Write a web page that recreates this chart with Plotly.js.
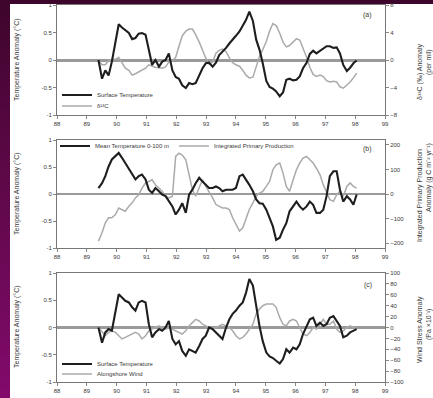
<!DOCTYPE html>
<html>
<head>
<meta charset="utf-8">
<script src="https://cdn.plot.ly/plotly-3.0.1.min.js"></script>
<style>
  html, body { margin: 0; padding: 0; }
  body { width: 433px; height: 398px; overflow: hidden; position: relative;
         background: linear-gradient(to bottom, #3e052c 0%, #5e0848 45%, #820a6c 100%); }
  #sheet { position: absolute; left: 10px; top: 4px; width: 423px; height: 394px; background: #ffffff; }
  #chart { position: absolute; left: 0; top: 0; width: 433px; height: 398px; }
</style>
</head>
<body>
<div id="sheet"></div>
<div id="chart"></div>
<script>
// Sampling times (decimal years)
const years = [
  1989.39, 1989.51, 1989.62, 1989.73, 1989.84, 1989.96, 1990.07, 1990.18, 1990.29, 1990.41,
  1990.52, 1990.63, 1990.74, 1990.85, 1990.97, 1991.08, 1991.19, 1991.30, 1991.42, 1991.53,
  1991.64, 1991.75, 1991.87, 1991.98, 1992.09, 1992.20, 1992.32, 1992.43, 1992.54, 1992.65,
  1992.77, 1992.88, 1992.99, 1993.10, 1993.22, 1993.33, 1993.44, 1993.55, 1993.67, 1993.78,
  1993.89, 1994.00, 1994.12, 1994.23, 1994.34, 1994.45, 1994.57, 1994.68, 1994.79, 1994.90,
  1995.02, 1995.13, 1995.24, 1995.35, 1995.47, 1995.58, 1995.69, 1995.80, 1995.92, 1996.03,
  1996.14, 1996.25, 1996.37, 1996.48, 1996.59, 1996.70, 1996.82, 1996.93, 1997.04, 1997.15,
  1997.27, 1997.38, 1997.49, 1997.60, 1997.72, 1997.83, 1997.94, 1998.05
];

// (a) surface temperature anomaly (°C) and δ13C anomaly
const surfTempA = [
  0.00, -0.34, -0.19, -0.28, -0.03, 0.35, 0.65, 0.59, 0.54, 0.49,
  0.38, 0.40, 0.48, 0.49, 0.46, 0.19, -0.09, 0.00, -0.12, -0.03,
  0.00, 0.12, -0.19, -0.31, -0.34, -0.46, -0.51, -0.42, -0.44, -0.42,
  -0.28, -0.15, -0.06, -0.05, -0.12, -0.05, 0.09, 0.15, 0.22, 0.30,
  0.38, 0.44, 0.52, 0.62, 0.73, 0.88, 0.71, 0.37, 0.19, -0.06,
  -0.38, -0.49, -0.52, -0.57, -0.66, -0.59, -0.36, -0.34, -0.37, -0.36,
  -0.30, -0.15, -0.05, 0.11, 0.17, 0.12, 0.17, 0.22, 0.25, 0.25,
  0.22, 0.23, 0.12, -0.09, -0.20, -0.14, -0.06, -0.01
];
const d13C = [
  -0.1, -0.7, -0.7, -0.1, 0.1, 0.1, 0.4, -0.5, -1.2, -1.5,
  -2.2, -2.0, -1.7, -1.5, -1.2, -0.7, -0.9, -1.1, -1.1, -1.2,
  -1.0, -0.3, -0.1, 0.4, 2.0, 3.5, 4.2, 4.5, 4.5, 3.7,
  2.6, 1.4, 0.3, -0.6, -0.3, 1.0, 1.4, 1.6, 1.2, 0.3,
  -0.4, -0.7, -0.9, -1.5, -2.2, -2.6, -2.5, -1.0, 0.5, 1.5,
  2.7, 4.2, 5.3, 5.0, 3.9, 2.6, 1.9, 2.1, 2.7, 3.1,
  2.9, 1.7, 0.4, -1.1, -2.1, -2.4, -2.2, -2.4, -3.0, -3.2,
  -3.1, -3.2, -3.9, -4.1, -3.7, -3.2, -2.6, -1.9
];

// (b) mean temperature 0-100 m (°C) and integrated primary production anomaly
const meanTemp = [
  0.11, 0.20, 0.33, 0.51, 0.64, 0.70, 0.76, 0.67, 0.57, 0.45,
  0.36, 0.27, 0.33, 0.36, 0.27, 0.08, 0.02, 0.11, 0.05, -0.01,
  -0.04, -0.14, -0.23, -0.38, -0.29, -0.17, -0.35, -0.01, 0.08, 0.20,
  0.30, 0.23, 0.17, 0.11, 0.11, 0.14, 0.11, 0.05, 0.08, 0.08,
  0.08, 0.11, 0.33, 0.36, 0.27, 0.17, 0.05, -0.10, -0.17, -0.18,
  -0.29, -0.43, -0.60, -0.85, -0.81, -0.66, -0.54, -0.32, -0.23, -0.14,
  -0.23, -0.29, -0.23, -0.14, -0.20, -0.35, -0.35, -0.29, -0.04, 0.33,
  0.42, 0.42, 0.08, -0.14, -0.04, -0.10, -0.20, -0.01
];
const primProd = [
  -192, -158, -117, -97, -97, -84, -57, -63, -70, -50,
  -36, -16, -3, 24, 45, 51, 58, 38, 24, 11,
  -9, -16, -9, 153, 166, 159, 139, 72, 18, -9,
  24, 58, 31, 11, -16, -43, -50, -57, -57, -63,
  -97, -124, -151, -138, -104, -63, -36, -9, 4, 11,
  31, 51, 99, 119, 126, 85, 31, 11, 58, 99,
  126, 146, 153, 139, 126, 105, 78, 38, 4, -23,
  -30, -3, 11, -9, 31, 45, 31, 24
];

// (c) surface temperature anomaly (°C) and alongshore wind anomaly
const surfTempC = [
  0.00, -0.28, -0.09, -0.03, -0.06, 0.31, 0.61, 0.55, 0.49, 0.46,
  0.37, 0.31, 0.46, 0.49, 0.46, 0.06, -0.18, -0.09, -0.03, -0.06,
  0.00, 0.12, -0.21, -0.31, -0.25, -0.43, -0.52, -0.40, -0.43, -0.46,
  -0.34, -0.21, -0.15, 0.00, -0.03, -0.09, -0.15, -0.21, 0.00, 0.15,
  0.25, 0.31, 0.40, 0.46, 0.64, 0.89, 0.77, 0.37, 0.03, -0.25,
  -0.46, -0.53, -0.56, -0.61, -0.66, -0.58, -0.40, -0.46, -0.37, -0.40,
  -0.31, -0.12, 0.03, 0.15, 0.18, 0.03, 0.09, 0.03, 0.06, 0.18,
  0.21, 0.12, 0.03, -0.18, -0.15, -0.09, -0.06, -0.03
];
const windStress = [
  0, -9, -15, -9, -6, -9, -15, -21, -18, -15,
  -12, -9, -12, -21, -15, -6, -3, 0, 3, 0,
  -3, 0, -3, -6, -9, -12, -6, 3, 9, 15,
  12, 6, 3, 0, -3, 0, 3, 6, 3, 0,
  -6, -15, -21, -18, -12, -3, 6, 25, 34, 40,
  43, 43, 43, 37, 18, 6, 3, 12, 15, 12,
  0, -12, -15, -9, 0, -3, 6, 15, 6, 6,
  12, -3, -9, -6, 0, 3, 0, 0
];

const yearTicks = [1988, 1989, 1990, 1991, 1992, 1993, 1994, 1995, 1996, 1997, 1998, 1999];
const yearLabels = ['88', '89', '90', '91', '92', '93', '94', '95', '96', '97', '98', '99'];
const tempTicks = [-1, -0.5, 0, 0.5, 1];
const tempLabels = ['-1', '-0.5', '0', '0.5', '1'];

const FONT = 'Liberation Sans, Arial, sans-serif';
const INK = '#3a3a3a';
const DARK = '#1e1e1e';
const GREY = '#aaaaaa';
const W = 433, H = 398;
const px = v => v / W;
const py = v => 1 - v / H;

const xDom = [px(57), px(385)];
const doms = [[py(115), py(5)], [py(248), py(140)], [py(382), py(273)]];

function xAxis(anchor) {
  return {
    domain: xDom, anchor: anchor, range: [1988, 1999],
    tickvals: yearTicks, ticktext: yearLabels,
    showline: true, mirror: true, linecolor: '#777', linewidth: 1,
    ticks: 'outside', ticklen: 3, tickcolor: '#888',
    tickfont: { size: 6, color: INK, family: FONT },
    showgrid: false, zeroline: false, fixedrange: true
  };
}
function rightAxis(dom, anchor, range, dtick, zw) {
  return {
    domain: dom, anchor: anchor, side: 'right', range: range, dtick: dtick,
    showline: true, mirror: true, linecolor: '#777', linewidth: 1,
    ticks: 'outside', ticklen: 3, tickcolor: '#888',
    tickfont: { size: 6, color: INK, family: FONT },
    showgrid: false, zeroline: true, zerolinecolor: '#9a9a9a', zerolinewidth: zw,
    fixedrange: true
  };
}
function leftAxis(over, anchor) {
  return {
    overlaying: over, anchor: anchor, side: 'left', range: [-1, 1],
    tickvals: tempTicks, ticktext: tempLabels,
    showline: false, ticks: 'outside', ticklen: 3, tickcolor: '#888',
    tickfont: { size: 6, color: INK, family: FONT },
    showgrid: false, zeroline: false, fixedrange: true
  };
}

const darkLine = { color: DARK, width: 2.1 };
const greyLine = { color: GREY, width: 1.5 };

const data = [
  { x: years, y: surfTempA, xaxis: 'x', yaxis: 'y2', mode: 'lines', name: 'Surface Temperature', line: darkLine, legend: 'legend' },
  { x: years, y: d13C, xaxis: 'x', yaxis: 'y', mode: 'lines', name: 'δ¹³C', line: greyLine, legend: 'legend4' },
  { x: years, y: meanTemp, xaxis: 'x2', yaxis: 'y4', mode: 'lines', name: 'Mean Temperature 0-100 m', line: darkLine, legend: 'legend2' },
  { x: years, y: primProd, xaxis: 'x2', yaxis: 'y3', mode: 'lines', name: 'Integrated Primary Production', line: greyLine, legend: 'legend2' },
  { x: years, y: surfTempC, xaxis: 'x3', yaxis: 'y6', mode: 'lines', name: 'Surface Temperature', line: darkLine, legend: 'legend3' },
  { x: years, y: windStress, xaxis: 'x3', yaxis: 'y5', mode: 'lines', name: 'Alongshore Wind', line: greyLine, legend: 'legend5' }
];

const legendFont = { size: 6, color: INK, family: FONT };
const annFont = { size: 7, color: INK, family: FONT };

function rowLegend(x, y) {
  return { x: px(x), y: py(y), xanchor: 'left', yanchor: 'middle', bgcolor: 'rgba(0,0,0,0)',
           font: legendFont, itemwidth: 30 };
}
function vText(text, x, yc) {
  return { text: text, xref: 'paper', yref: 'paper', x: px(x), y: py(yc), textangle: -90,
           showarrow: false, xanchor: 'center', yanchor: 'middle', font: annFont };
}
function panelLabel(text, x, y) {
  return { text: text, xref: 'paper', yref: 'paper', x: px(x), y: py(y), showarrow: false,
           xanchor: 'center', yanchor: 'middle', font: { size: 7, color: INK, family: FONT } };
}

const layout = {
  width: W, height: H,
  margin: { l: 0, r: 0, t: 0, b: 0 },
  paper_bgcolor: 'rgba(0,0,0,0)', plot_bgcolor: 'rgba(0,0,0,0)',
  font: { family: FONT, size: 6, color: INK },
  xaxis: xAxis('y'),
  xaxis2: xAxis('y3'),
  xaxis3: xAxis('y5'),
  yaxis: rightAxis(doms[0], 'x', [-8, 8], 4, 3),
  yaxis2: leftAxis('y', 'x'),
  yaxis3: rightAxis(doms[1], 'x2', [-220, 220], 100, 1.5),
  yaxis4: leftAxis('y3', 'x2'),
  yaxis5: rightAxis(doms[2], 'x3', [-100, 100], 20, 3),
  yaxis6: leftAxis('y5', 'x3'),
  legend: rowLegend(57, 95),
  legend4: rowLegend(57, 106),
  legend2: { x: px(55), y: py(146), xanchor: 'left', yanchor: 'middle', orientation: 'h',
             bgcolor: 'rgba(0,0,0,0)', font: legendFont, itemwidth: 30 },
  legend3: rowLegend(57, 364),
  legend5: rowLegend(57, 374),
  annotations: [
    vText('Temperature Anomaly (°C)', 17, 60),
    vText('Temperature Anomaly (°C)', 17, 194),
    vText('Temperature Anomaly (°C)', 17, 327),
    vText('δ¹³C (‰) Anomaly', 420, 72),
    vText('(per mil)', 429, 62),
    vText('Integrated Primary Production', 420, 196),
    vText('Anomaly (g C m⁻² yr⁻¹)', 429, 178),
    vText('Wind Stress Anomaly', 420, 330),
    vText('(Pa ×10⁻³)', 429, 325),
    panelLabel('(a)', 367, 15),
    panelLabel('(b)', 367, 149),
    panelLabel('(c)', 368, 285)
  ],
  showlegend: true
};

Plotly.newPlot('chart', data, layout, { staticPlot: true, displayModeBar: false });
</script>
</body>
</html>
